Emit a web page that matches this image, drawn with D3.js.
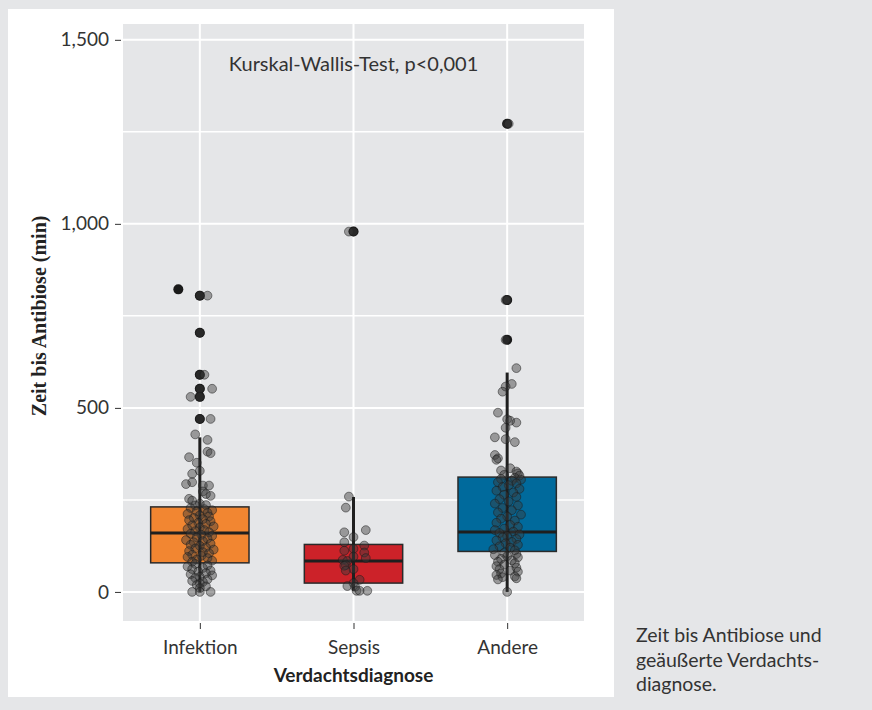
<!DOCTYPE html>
<html>
<head>
<meta charset="utf-8">
<script src="https://cdn.jsdelivr.net/npm/d3@7"></script>
<style>
	body { margin: 0; background: #e5e6e8; }
	svg { display: block; }
	.tick-label { font-family: Lato, "Open Sans", sans-serif; font-size: 19px; fill: #333; }
	.axis-title-y { font-family: "Liberation Serif", serif; font-weight: bold; font-size: 20px; fill: #222; }
	.axis-title-x { font-family: Lato, sans-serif; font-weight: bold; font-size: 19px; fill: #222; }
	.annotation { font-family: Lato, sans-serif; font-size: 20px; fill: #333; }
	.caption { font-family: Lato, sans-serif; font-size: 19.5px; fill: #333; }
</style>
</head>
<body>
<div id="chart"></div>
<script>
// categories and box statistics (min)
const categories = ['Infektion', 'Sepsis', 'Andere'];
const whiskerLow = [0, 3, 0];
const q1 = [79, 24, 110];
const median = [160, 84, 163];
const q3 = [231, 129, 312];
const whiskerHigh = [420, 258, 596];

// outliers drawn by the boxplot: [value, jitter in category steps]
const outliersInfektion = [[822, -0.14], [805, 0], [704, 0], [590, 0], [552, 0], [530, 0], [470, 0]];
const outliersSepsis = [[979, 0]];
const outliersAndere = [[1272, 0], [793, 0], [685, 0]];

// jittered raw observations: [value, jitter in category steps]
const pointsInfektion = [
	[805, 0.05], [805, 0], [704, 0], [590, 0], [590, 0.03], [552, 0], [552, 0.08], [530, -0.06], [530, 0],
	[470, 0], [470, 0.07], [428, -0.03], [413, 0.05],
	[381, 0.05], [377, 0.07], [366, -0.07], [351, -0.02], [329, 0.0], [321, -0.05], [298, -0.05], [293, -0.09],
	[289, 0.02], [289, 0.06], [273, 0.02], [266, 0.04], [261, 0.07], [253, -0.07], [248, -0.05], [240, 0.0],
	[236, 0.04], [235, -0.03],
	[228, -0.06], [225, 0.03], [222, 0.08], [219, -0.02], [215, 0.05], [212, -0.08], [208, 0.0], [205, 0.06],
	[201, -0.04], [198, 0.02], [195, -0.07], [192, 0.07], [188, -0.01], [185, 0.04], [181, -0.05], [178, 0.09],
	[175, 0.0], [171, -0.08], [168, 0.03], [165, -0.03], [162, 0.06], [158, -0.06], [155, 0.01], [152, 0.08],
	[148, -0.02], [145, 0.05], [141, -0.09], [138, 0.02], [135, -0.04], [131, 0.07], [128, -0.06], [125, 0.0],
	[121, 0.04], [118, -0.03], [115, 0.09], [111, -0.07], [108, 0.02], [105, 0.06], [101, -0.05], [98, 0.01],
	[95, -0.08], [92, 0.05], [88, -0.02], [85, 0.08], [82, -0.05],
	[76, -0.03], [72, 0.05], [69, -0.08], [65, 0.02], [62, -0.05], [58, 0.07], [55, -0.01], [51, 0.04],
	[48, -0.06], [45, 0.08], [41, 0.0], [38, -0.03], [34, 0.05], [30, -0.05], [27, 0.02], [23, 0.0],
	[19, -0.02], [15, 0.04], [10, 0.0], [0, -0.05], [0, 0.0], [0, 0.07]
];
const pointsSepsis = [
	[979, -0.03], [979, 0.0],
	[259, -0.03], [229, -0.05], [168, 0.08], [162, -0.06], [149, 0.0], [135, -0.06], [126, 0.07], [117, 0.0],
	[112, -0.06], [107, 0.07], [96, 0.0], [92, 0.08], [87, -0.07], [84, -0.04], [73, -0.05], [71, -0.06],
	[62, 0.0], [58, -0.05], [33, 0.04], [24, 0.0], [16, -0.04], [14, 0.01], [3, 0.02], [3, 0.04], [3, 0.09]
];
const pointsAndere = [
	[1272, 0.0], [1272, 0.01], [793, -0.01], [793, 0.0], [685, -0.01],
	[608, 0.06], [565, 0.03], [558, -0.01], [544, -0.03], [487, -0.06], [469, 0.0], [465, 0.02], [460, 0.06],
	[446, -0.01], [420, -0.08], [415, -0.01], [407, 0.05], [372, -0.08], [363, -0.06], [359, -0.07], [336, 0.02],
	[330, -0.04], [327, 0.06], [322, 0.07], [318, -0.02], [316, 0.08],
	[310, 0.05], [307, -0.04], [305, 0.09], [302, 0.03], [298, -0.06], [295, 0.06], [290, 0.01], [285, -0.03],
	[280, 0.08], [275, -0.07], [270, 0.04], [264, -0.02], [258, 0.06], [252, -0.05], [246, 0.01], [240, -0.08],
	[235, 0.07], [228, -0.03], [222, 0.03], [216, -0.06], [210, 0.09], [205, 0.0], [199, -0.04], [194, 0.05],
	[188, -0.07], [182, 0.02], [177, 0.07], [172, -0.02], [168, -0.08], [164, 0.04], [160, -0.05], [156, 0.08],
	[152, 0.0], [148, -0.03], [144, 0.06], [140, -0.07], [136, 0.03], [132, -0.01], [128, 0.07], [124, -0.05],
	[120, 0.02], [116, -0.09], [113, 0.05],
	[106, -0.02], [103, 0.06], [100, -0.08], [97, 0.0], [94, 0.07], [90, -0.04], [86, 0.03], [82, -0.06],
	[78, 0.05], [74, -0.02], [70, -0.07], [66, 0.06], [62, -0.05], [58, 0.02], [55, 0.07], [50, -0.04],
	[46, -0.07], [42, 0.05], [40, -0.03], [37, 0.06], [34, -0.06], [0, 0.0]
];

const yTicks = [0, 500, 1000, 1500];
const yMinorTicks = [250, 750, 1250];
const annotation = 'Kurskal-Wallis-Test, p<0,001';
const xTitle = 'Verdachtsdiagnose';
const yTitle = 'Zeit bis Antibiose (min)';
const captionLines = ['Zeit bis Antibiose und', 'geäußerte Verdachts-', 'diagnose.'];

const fillColors = ['#f28631', '#cc2229', '#006a9c'];

const width = 872, height = 710;
const panel = { left: 123, right: 584, top: 24, bottom: 621 };

const svg = d3.select('#chart').append('svg').attr('width', width).attr('height', height);

// white card behind the figure
svg.append('rect').attr('x', 8).attr('y', 9).attr('width', 606).attr('height', 688).attr('fill', '#fff');

// scales
const xScale = d3.scalePoint().domain(categories).range([panel.left, panel.right]).padding(0.5);
const yScale = d3.scaleLinear().domain([-79, 1543]).range([panel.bottom, panel.top]);
const step = xScale.step();
const boxWidth = step * 0.64;

// panel background and grid
svg.append('rect')
	.attr('x', panel.left).attr('y', panel.top)
	.attr('width', panel.right - panel.left).attr('height', panel.bottom - panel.top)
	.attr('fill', '#e5e6e8');

const grid = svg.append('g').attr('class', 'grid');
grid.selectAll('.minor').data(yMinorTicks).join('line')
	.attr('x1', panel.left).attr('x2', panel.right)
	.attr('y1', d => yScale(d)).attr('y2', d => yScale(d))
	.attr('stroke', '#fff').attr('stroke-width', 1.5);
grid.selectAll('.major').data(yTicks).join('line')
	.attr('x1', panel.left).attr('x2', panel.right)
	.attr('y1', d => yScale(d)).attr('y2', d => yScale(d))
	.attr('stroke', '#fff').attr('stroke-width', 2);
grid.selectAll('.vert').data(categories).join('line')
	.attr('x1', d => xScale(d)).attr('x2', d => xScale(d))
	.attr('y1', panel.top).attr('y2', panel.bottom)
	.attr('stroke', '#fff').attr('stroke-width', 2);

// axes
const yAxis = d3.axisLeft(yScale).tickValues(yTicks).tickSize(6).tickPadding(6).tickFormat(d3.format(','));
const yAxisG = svg.append('g').attr('transform', `translate(${panel.left - 2},0)`).call(yAxis);
yAxisG.select('.domain').remove();
yAxisG.selectAll('line').attr('stroke', '#333');
yAxisG.selectAll('text').attr('class', 'tick-label').attr('font-family', null).attr('font-size', null).attr('fill', null);

const xAxis = d3.axisBottom(xScale).tickSize(6).tickPadding(12);
const xAxisG = svg.append('g').attr('transform', `translate(0,${panel.bottom + 2})`).call(xAxis);
xAxisG.select('.domain').remove();
xAxisG.selectAll('line').attr('stroke', '#333');
xAxisG.selectAll('text').attr('class', 'tick-label').attr('font-family', null).attr('font-size', null).attr('fill', null);

// axis titles
svg.append('text').attr('class', 'axis-title-x').attr('text-anchor', 'middle')
	.attr('x', xScale(categories[1])).attr('y', 682).text(xTitle);
svg.append('text').attr('class', 'axis-title-y').attr('text-anchor', 'middle')
	.attr('transform', `translate(46,${yScale(750)}) rotate(-90)`).text(yTitle);

// annotation
svg.append('text').attr('class', 'annotation').attr('text-anchor', 'middle')
	.attr('x', xScale(categories[1])).attr('y', yScale(1415)).text(annotation);

// boxes
const boxes = categories.map((c, i) => ({
	cat: c, lo: whiskerLow[i], q1: q1[i], med: median[i], q3: q3[i], hi: whiskerHigh[i], fill: fillColors[i]
}));
const boxG = svg.append('g').attr('class', 'boxes');
boxG.selectAll('rect').data(boxes).join('rect')
	.attr('x', d => xScale(d.cat) - boxWidth / 2)
	.attr('y', d => yScale(d.q3))
	.attr('width', boxWidth)
	.attr('height', d => yScale(d.q1) - yScale(d.q3))
	.attr('fill', d => d.fill)
	.attr('stroke', '#2a2a2a').attr('stroke-width', 1.5);

// outliers (solid)
const outliers = [outliersInfektion, outliersSepsis, outliersAndere]
	.flatMap((arr, i) => arr.map(d => ({ cat: categories[i], v: d[0], j: d[1] })));
svg.append('g').selectAll('circle').data(outliers).join('circle')
	.attr('cx', d => xScale(d.cat) + d.j * step)
	.attr('cy', d => yScale(d.v))
	.attr('r', 5)
	.attr('fill', '#1a1a1a');

// jittered points
const points = [pointsInfektion, pointsSepsis, pointsAndere]
	.flatMap((arr, i) => arr.map(d => ({ cat: categories[i], v: d[0], j: d[1] })));
svg.append('g').selectAll('circle').data(points).join('circle')
	.attr('cx', d => xScale(d.cat) + d.j * step)
	.attr('cy', d => yScale(d.v))
	.attr('r', 4.4)
	.attr('fill', '#3a3a3a').attr('fill-opacity', 0.45)
	.attr('stroke', '#1a1a1a').attr('stroke-opacity', 0.5).attr('stroke-width', 1);

// whiskers and medians on top
boxG.selectAll('.whisker').data(boxes).join('line')
	.attr('class', 'whisker')
	.attr('x1', d => xScale(d.cat)).attr('x2', d => xScale(d.cat))
	.attr('y1', d => yScale(d.lo)).attr('y2', d => yScale(d.hi))
	.attr('stroke', '#1f1f1f').attr('stroke-width', 3);
boxG.selectAll('.median').data(boxes).join('line')
	.attr('class', 'median')
	.attr('x1', d => xScale(d.cat) - boxWidth / 2).attr('x2', d => xScale(d.cat) + boxWidth / 2)
	.attr('y1', d => yScale(d.med)).attr('y2', d => yScale(d.med))
	.attr('stroke', '#1f1f1f').attr('stroke-width', 3);

// caption
svg.append('text').attr('class', 'caption')
	.selectAll('tspan').data(captionLines).join('tspan')
	.attr('x', 636).attr('y', (d, i) => 642 + i * 24.5)
	.text(d => d);
</script>
</body>
</html>
